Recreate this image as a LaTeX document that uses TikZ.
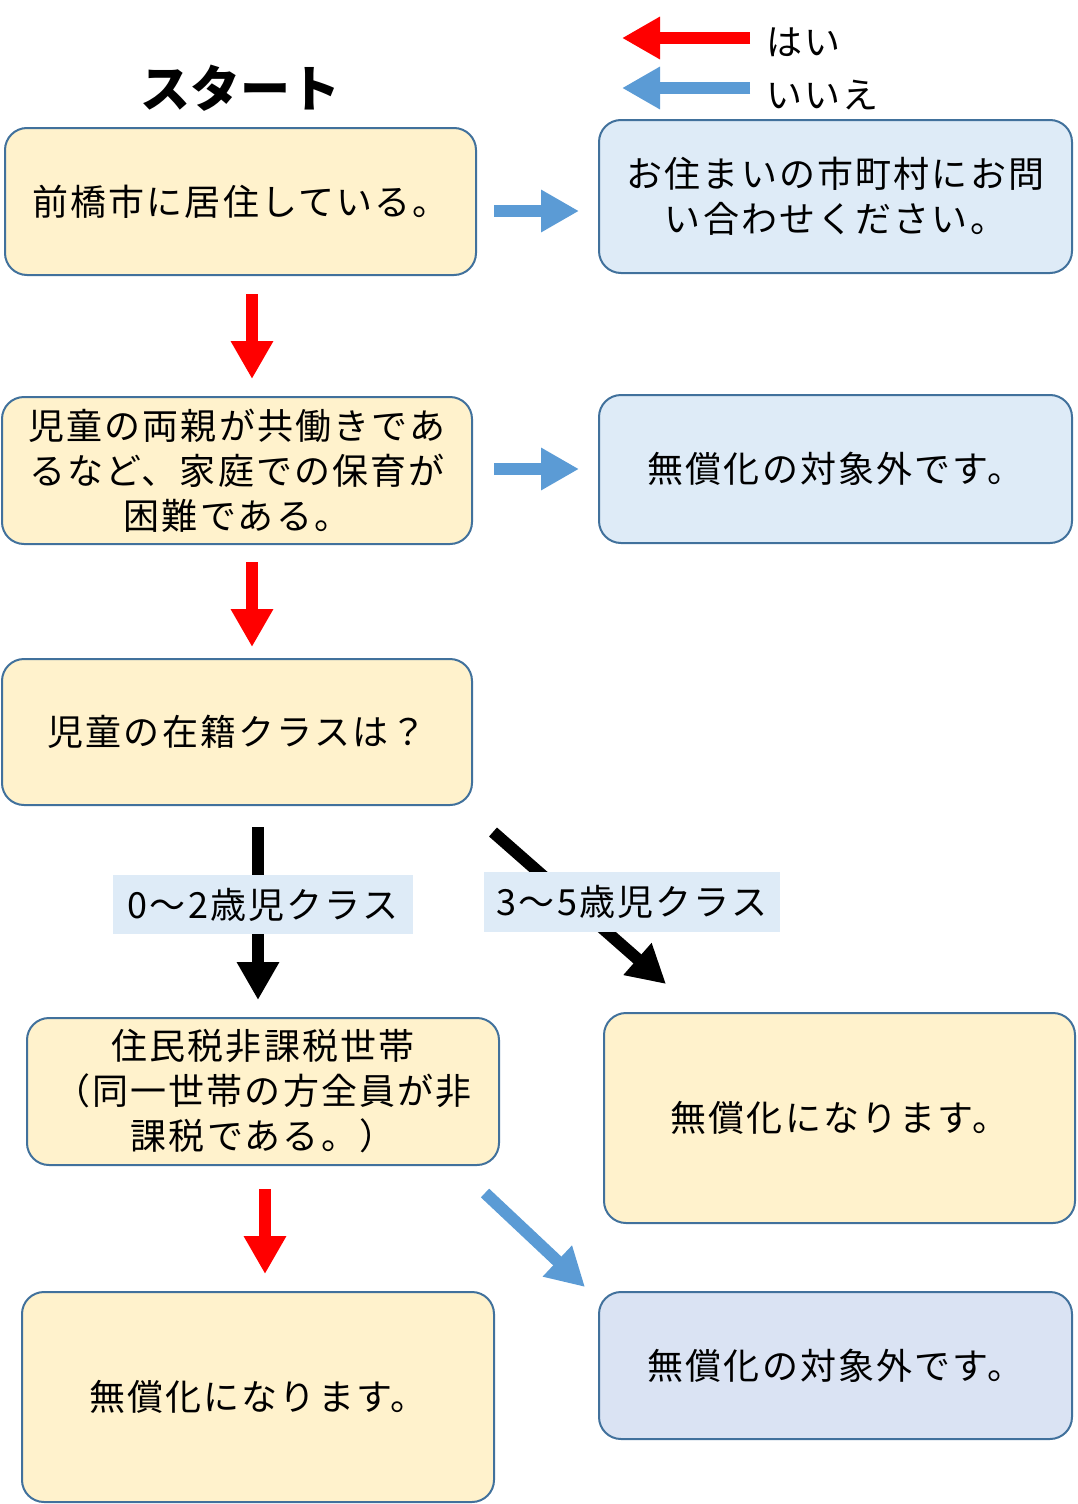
\documentclass[tikz,border=0pt]{standalone}
\usepackage{fontspec}
\newfontfamily\jp[LetterSpace=6]{Noto Sans CJK JP}
\newfontfamily\jpt{Noto Sans CJK JP}
\usetikzlibrary{arrows.meta}
\definecolor{yfill}{HTML}{FFF2CC}
\definecolor{bfill}{HTML}{DEEBF7}
\definecolor{bfillb}{HTML}{DAE3F3}
\definecolor{edge}{HTML}{41719C}
\definecolor{ablue}{HTML}{5B9BD5}
\definecolor{ared}{HTML}{FF0000}
\tikzset{
  box/.style={draw=edge, line width=2pt, rounded corners=22pt, inner sep=0pt, align=center,
    font=\jp\fontsize{36}{45}\selectfont},
  ybox/.style={box, fill=yfill},
  bbox/.style={box, fill=bfill},
  blk/.style={line width=12pt, -{Triangle[length=38pt 0, width=40pt 0]}},
  redarr/.style={blk, draw=ared, fill=ared},
  bluearr/.style={blk, draw=ablue, fill=ablue},
  blackarr/.style={blk, draw=black, fill=black},
  lbl/.style={fill=bfill, inner sep=0pt, font=\jp\fontsize{36}{45}\selectfont},
}
\begin{document}
\begin{tikzpicture}[x=1pt,y=-1pt]
\useasboundingbox (0,0) rectangle (1077,1504);
% title and legend
\node[font=\jpt\bfseries\fontsize{50}{60}\selectfont] (title) at (240,88) {スタート};
\coordinate (r1) at (750,38); \coordinate (r2) at (622,38);
\coordinate (b1) at (750,88); \coordinate (b2) at (622,88);
\draw[redarr] (r1) -- (r2);
\draw[bluearr] (b1) -- (b2);
\node[anchor=west, inner sep=0pt, font=\jp\fontsize{36}{45}\selectfont] (yes) at (766,42) {はい};
\node[anchor=west, inner sep=0pt, font=\jp\fontsize{36}{45}\selectfont] (no) at (766,95) {いいえ};
% boxes
\node[ybox, minimum width=471pt, minimum height=147pt] (A) at (240.5,201.5) {前橋市に居住している。};
\node[bbox, minimum width=473pt, minimum height=153pt] (B) at (835.5,196.5) {お住まいの市町村にお問\\い合わせください。};
\node[ybox, minimum width=470pt, minimum height=147pt] (C) at (237,470.5) {児童の両親が共働きであ\\るなど、家庭での保育が\\困難である。};
\node[bbox, minimum width=473pt, minimum height=148pt] (D) at (835.5,469) {無償化の対象外です。};
\node[ybox, minimum width=470pt, minimum height=146pt] (E) at (237,732) {児童の在籍クラスは？};
\node[ybox, minimum width=472pt, minimum height=147pt] (F) at (263,1091.5) {住民税非課税世帯\\（同一世帯の方全員が非\\課税である。）};
\node[ybox, minimum width=471pt, minimum height=210pt] (G) at (839.5,1118) {無償化になります。};
\node[box, fill=bfillb, minimum width=473pt, minimum height=147pt] (H) at (835.5,1365.5) {無償化の対象外です。};
\node[ybox, minimum width=472pt, minimum height=210pt] (I) at (258,1397) {無償化になります。};
% arrows
\draw[bluearr] ([xshift=17pt,yshift=-9.5pt]A.east) -- ([xshift=-19pt,yshift=-14.5pt]B.west);
\draw[redarr] ([xshift=11.5pt,yshift=-18pt]A.south) -- ([xshift=15pt,yshift=17pt]C.north);
\draw[bluearr] ([xshift=21pt,yshift=1.5pt]C.east) -- ([xshift=-19pt]D.west);
\draw[redarr] ([xshift=15pt,yshift=-17pt]C.south) -- ([xshift=15pt,yshift=11pt]E.north);
\draw[blackarr] ([xshift=21pt,yshift=-21pt]E.south) -- ([xshift=-5pt,yshift=17pt]F.north);
\draw[blackarr] ([xshift=20pt,yshift=-26pt]E.south east) -- ([xshift=63pt,yshift=28pt]G.north west);
\draw[redarr] ([xshift=2pt,yshift=-23pt]F.south) -- ([xshift=7pt,yshift=17pt]I.north);
\draw[bluearr] ([xshift=-15pt,yshift=-27pt]F.south east) -- ([xshift=-13pt,yshift=4pt]H.north west);
% labels
\node[lbl, minimum width=300pt, minimum height=59pt] (L1) at (263,904.5) {0〜2歳児クラス};
\node[lbl, minimum width=296pt, minimum height=60pt] (L2) at (632,902) {3〜5歳児クラス};
\end{tikzpicture}
\end{document}
